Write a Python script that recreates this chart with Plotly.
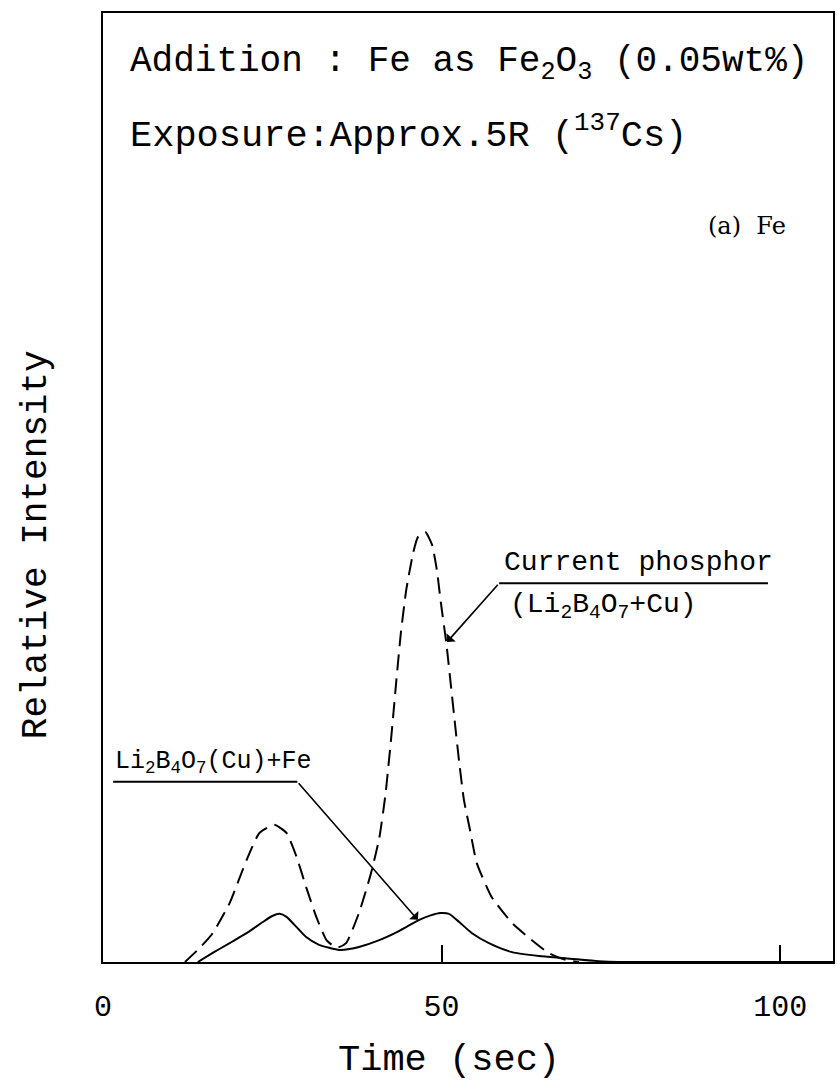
import plotly.graph_objects as go

# Glow curve of the current phosphor (Li2B4O7 + Cu), dashed
t_current = [12.1, 14.3, 16.2, 18.7, 21.2, 23.1, 25.3, 27.1, 28.6, 30.0, 31.5, 33.0,
             34.5, 35.9, 37.8, 39.5, 40.8, 41.7, 42.6, 43.3, 44.0, 44.8, 45.8, 46.5,
             47.6, 48.6, 49.3, 49.9, 50.7, 51.4, 52.0, 52.6, 53.3, 54.2, 55.2, 57.4,
             60.4, 63.3, 65.8, 68.3, 70.3]
i_current = [0.0, 3.3, 6.7, 13.7, 23.7, 30.0, 31.9, 30.0, 24.4, 17.4, 10.5, 5.1,
             3.3, 4.4, 11.4, 20.2, 28.8, 38.8, 52.8, 65.1, 76.7, 86.7, 95.1, 98.8,
             100.0, 97.0, 91.2, 83.5, 74.2, 64.0, 55.1, 46.5, 37.7, 30.7, 23.0, 15.1,
             9.1, 5.1, 2.1, 0.5, 0.0]

# Glow curve of Li2B4O7(Cu) with Fe added, solid
t_fe = [14.0, 16.2, 18.7, 21.2, 23.6, 25.0, 26.1, 27.1, 28.6, 30.0, 31.9, 33.4,
        34.9, 36.4, 37.8, 40.8, 43.7, 46.7, 48.5, 49.8, 51.1, 52.6, 54.5, 57.0,
        60.4, 64.4, 68.3, 73.2, 76.1, 107.8]
i_fe = [0.0, 2.1, 4.4, 6.7, 9.3, 10.7, 11.2, 10.5, 8.1, 5.8, 4.0, 3.3,
        2.8, 3.0, 3.5, 5.1, 7.2, 9.8, 10.9, 11.4, 11.2, 9.3, 6.7, 4.4,
        2.3, 1.4, 0.9, 0.2, 0.0, 0.0]

x_ticks = [0, 50, 100]
x_tick_text = ["0", "50", "100"]

W, H = 837, 1086
ML, MR, MT, MB = 103, 2, 13, 124
PW, PH = W - ML - MR, H - MT - MB


def paper(px, py):
    """Pixel position on the page -> paper coordinates."""
    return (px - ML) / PW, (H - MB - py) / PH


MONO = "Liberation Mono"

fig = go.Figure()
fig.add_trace(go.Scatter(
    x=t_current, y=i_current, mode="lines",
    line=dict(color="black", width=2, dash="16px,8px", shape="spline", smoothing=0.5),
    showlegend=False, hoverinfo="skip"))
fig.add_trace(go.Scatter(
    x=t_fe, y=i_fe, mode="lines",
    line=dict(color="black", width=2, shape="spline", smoothing=0.6),
    showlegend=False, hoverinfo="skip"))

# Leader lines under the curve labels
fig.add_shape(type="line", xref="x", yref="y", x0=1.5, y0=41.9, x1=28.7, y1=41.9,
              line=dict(color="black", width=2))
fig.add_shape(type="line", xref="x", yref="y", x0=58.5, y0=88.1, x1=98.2, y1=88.1,
              line=dict(color="black", width=2))

annotations = [
    # arrows from the label underlines to the curves
    dict(x=46.5, y=9.8, ax=28.7, ay=41.9, xref="x", yref="y", axref="x", ayref="y",
         text="", showarrow=True, arrowhead=1, arrowsize=1.3, arrowwidth=1.6,
         arrowcolor="black"),
    dict(x=50.8, y=74.4, ax=58.5, ay=88.1, xref="x", yref="y", axref="x", ayref="y",
         text="", showarrow=True, arrowhead=1, arrowsize=1.3, arrowwidth=1.6,
         arrowcolor="black"),
    # curve labels
    dict(x=1.5, y=42.4, xref="x", yref="y", xanchor="left", yanchor="bottom",
         text="Li<sub>2</sub>B<sub>4</sub>O<sub>7</sub>(Cu)+Fe", showarrow=False,
         font=dict(family=MONO, size=25, color="black")),
    dict(x=58.9, y=88.9, xref="x", yref="y", xanchor="left", yanchor="bottom",
         text="Current phosphor", showarrow=False,
         font=dict(family=MONO, size=28, color="black")),
    dict(x=59.8, y=87.3, xref="x", yref="y", xanchor="left", yanchor="top",
         text="(Li<sub>2</sub>B<sub>4</sub>O<sub>7</sub>+Cu)", showarrow=False,
         font=dict(family=MONO, size=28, color="black")),
]

# Header lines and panel tag
hx, hy = paper(128, 64)
annotations.append(dict(x=hx, y=hy, xref="paper", yref="paper", xanchor="left",
                        yanchor="middle", showarrow=False,
                        text="Addition : Fe as Fe<sub>2</sub>O<sub>3</sub> (0.05wt%)",
                        font=dict(family=MONO, size=36, color="black")))
hx, hy = paper(128, 132)
annotations.append(dict(x=hx, y=hy, xref="paper", yref="paper", xanchor="left",
                        yanchor="middle", showarrow=False,
                        text="Exposure:Approx.5R (<sup>137</sup>Cs)",
                        font=dict(family=MONO, size=37, color="black")))
hx, hy = paper(749, 226)
annotations.append(dict(x=hx, y=hy, xref="paper", yref="paper", xanchor="center",
                        yanchor="middle", showarrow=False, text="(a)  Fe",
                        font=dict(family="DejaVu Serif", size=24, color="black")))

# Axis titles
hx, hy = paper(450, 1060)
annotations.append(dict(x=hx, y=hy, xref="paper", yref="paper", xanchor="center",
                        yanchor="middle", showarrow=False, text="Time (sec)",
                        font=dict(family=MONO, size=37, color="black")))
hx, hy = paper(36, 545)
annotations.append(dict(x=hx, y=hy, xref="paper", yref="paper", xanchor="center",
                        yanchor="middle", showarrow=False, text="Relative Intensity",
                        textangle=-90,
                        font=dict(family=MONO, size=36, color="black")))

fig.update_layout(
    width=W, height=H,
    margin=dict(l=ML, r=MR, t=MT, b=MB, pad=0),
    paper_bgcolor="white", plot_bgcolor="white",
    annotations=annotations,
    xaxis=dict(range=[0, PW / 6.79], tickvals=x_ticks, ticktext=x_tick_text,
               ticks="inside", ticklen=17, tickwidth=2, tickcolor="black",
               showline=True, mirror=True, linecolor="black", linewidth=2,
               showgrid=False, zeroline=False, ticklabelstandoff=16,
               tickfont=dict(family=MONO, size=30, color="black")),
    yaxis=dict(range=[0, PH / 4.3], showticklabels=False, ticks="",
               showline=True, mirror=True, linecolor="black", linewidth=2,
               showgrid=False, zeroline=False),
)

fig.write_html("out.html")
